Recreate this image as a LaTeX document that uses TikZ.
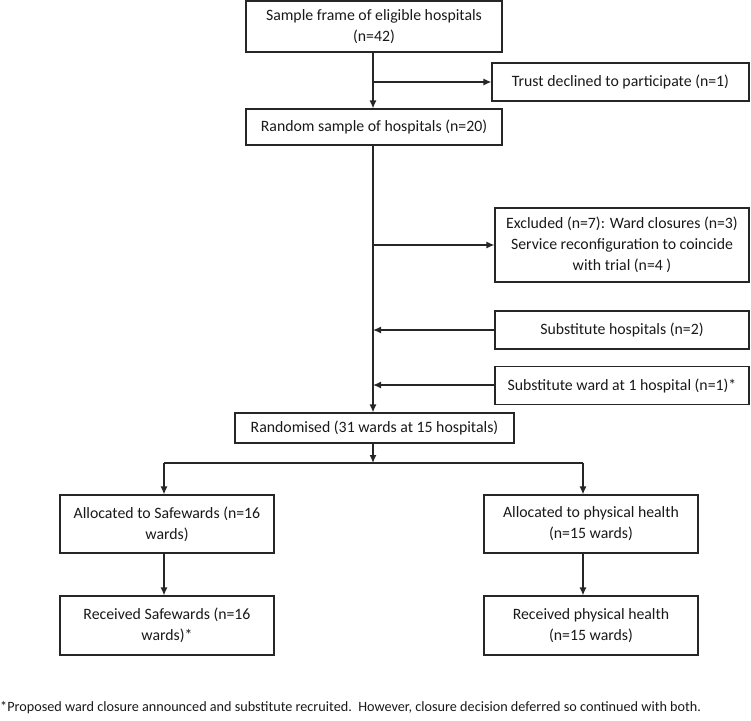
\documentclass[tikz,border=0pt]{standalone}
\usepackage{fontspec}
\setmainfont{Carlito}
\usetikzlibrary{arrows.meta}
\begin{document}
\begin{tikzpicture}[x=1pt,y=1pt,
  box/.style={draw=black!85, line width=1.1pt, align=center, inner sep=2pt,
    font=\fontsize{15.8}{21}\selectfont, text=black!90},
  arr/.style={draw=black!85, line width=1.4pt, -{Latex[length=8pt,width=7pt]}},
  ln/.style={draw=black!85, line width=1.4pt}]
\useasboundingbox (0,0) rectangle (751,-720);
\node[box, minimum width=256, minimum height=51] (b1) at (374,-26.5) {Sample frame of eligible hospitals\\(n=42)};
\node[box, minimum width=257, minimum height=38] (trust) at (620.5,-82) {Trust declined to participate (n=1)};
\node[box, minimum width=256, minimum height=36] (rand) at (374,-127) {Random sample of hospitals (n=20)};
\node[box, minimum width=254, minimum height=74] (excl) at (622,-245) {Excluded (n=7): Ward closures (n=3)\\Service reconfiguration to coincide\\with trial (n=4 )};
\node[box, minimum width=254, minimum height=38] (subh) at (622,-330) {Substitute hospitals (n=2)};
\node[box, minimum width=254, minimum height=38] (subw) at (622,-385.5) {Substitute ward at 1 hospital (n=1)*};
\node[box, minimum width=279, minimum height=30] (rnd) at (374.5,-428) {Randomised (31 wards at 15 hospitals)};
\node[box, minimum width=214, minimum height=58] (alS) at (167,-524) {Allocated to Safewards (n=16\\wards)};
\node[box, minimum width=214, minimum height=58] (alP) at (591,-524) {Allocated to physical health\\(n=15 wards)};
\node[box, minimum width=214, minimum height=59] (recS) at (167,-625.5) {Received Safewards (n=16\\wards)*};
\node[box, minimum width=214, minimum height=59] (recP) at (591,-625.5) {Received physical health\\(n=15 wards)};
\node[anchor=west, inner sep=0pt, font=\fontsize{14.2}{17}\selectfont, text=black!90] (foot) at (0,-708)
  {*Proposed ward closure announced and substitute recruited.\ \ However, closure decision deferred so continued with both.};
\coordinate (m) at (373,0);
\coordinate (j) at (373,-463);
\coordinate (jl) at (164,-463);
\coordinate (jr) at (583,-463);
\coordinate (sw) at (0,-385);
% main flow
\draw[arr] (b1.south -| m) -- (rand.north -| m);
\draw[arr] (m |- trust.west) -- (trust.west);
\draw[arr] (rand.south -| m) -- (rnd.north -| m);
\draw[arr] (m |- excl.west) -- (excl.west);
\draw[arr] (subh.west) -- (m |- subh.west);
\draw[arr] (subw.west |- sw) -- (m |- sw);
\draw[arr] (rnd.south -| m) -- (j);
\draw[ln] (jl) -- (jr);
\draw[arr] (jl) -- (jl |- alS.north);
\draw[arr] (jr) -- (jr |- alP.north);
\draw[arr] (alS.south -| jl) -- (recS.north -| jl);
\draw[arr] (alP.south -| jr) -- (recP.north -| jr);
\end{tikzpicture}
\end{document}
